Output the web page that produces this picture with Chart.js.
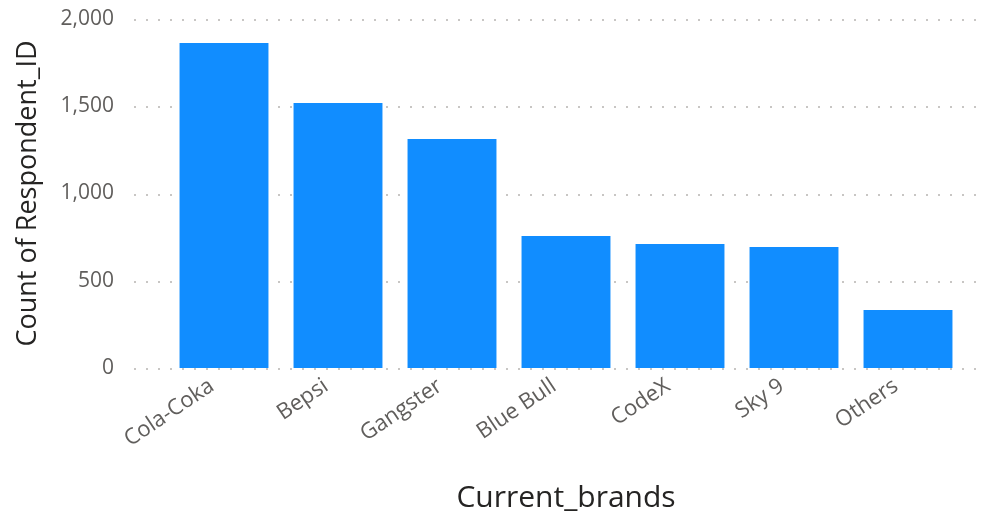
<!DOCTYPE html>
<html>
<head>
<meta charset="utf-8">
<script src="https://cdn.jsdelivr.net/npm/chart.js@4.4.1/dist/chart.umd.min.js"></script>
<style>
  html, body { margin: 0; padding: 0; background: #fff; }
  #wrap { width: 992px; height: 517px; }
</style>
</head>
<body>
<div id="wrap"><canvas id="brandChart" width="992" height="517"></canvas></div>
<script>
const brands = ["Cola-Coka", "Bepsi", "Gangster", "Blue Bull", "CodeX", "Sky 9", "Others"]
const respondentCounts = [1862, 1519, 1312, 756, 711, 693, 332]
const yTicks = [0, 500, 1000, 1500, 2000]

const FONT = "'Open Sans', 'Noto Sans', sans-serif"
const BAR_BLUE = "#118DFF"
const LABEL_GREY = "#605E5C"
const TITLE_DARK = "#252423"

// dotted gridlines that run a little past the bar area on both sides
const dottedGrid = {
  id: "dottedGrid",
  beforeDatasetsDraw(chart) {
    const { ctx, chartArea, scales } = chart
    ctx.save()
    ctx.strokeStyle = "#C8C6C4"
    ctx.lineWidth = 2
    ctx.setLineDash([2, 10])
    yTicks.forEach(v => {
      const y = Math.round(scales.y.getPixelForValue(v)) + 1
      ctx.beginPath()
      ctx.moveTo(chartArea.left - 33, y)
      ctx.lineTo(chartArea.right + 21, y)
      ctx.stroke()
    })
    ctx.restore()
  },
}

// fixed axis boxes so the plot area lands in the same place every time
const fixBox = size => scale => {
  scale.paddingTop = 0
  scale.paddingBottom = 0
  scale.paddingLeft = 0
  scale.paddingRight = 0
  if (scale.isHorizontal()) scale.height = size
  else scale.width = size
}

new Chart(document.getElementById("brandChart"), {
  type: "bar",
  data: {
    labels: brands,
    datasets: [
      {
        label: "Count of Respondent_ID",
        data: respondentCounts,
        backgroundColor: BAR_BLUE,
        borderWidth: 0,
        barPercentage: 0.78,
        categoryPercentage: 1,
      },
    ],
  },
  options: {
    responsive: false,
    animation: false,
    layout: { padding: { top: 19, right: 27, bottom: 1, left: 12 } },
    plugins: {
      legend: { display: false },
      tooltip: { enabled: false },
    },
    scales: {
      x: {
        grid: { display: false, drawTicks: false },
        border: { display: false },
        afterFit: fixBox(148),
        ticks: {
          color: LABEL_GREY,
          font: { family: FONT, size: 22 },
          minRotation: 34,
          maxRotation: 34,
          padding: 5,
          labelOffset: -12,
        },
        title: {
          display: true,
          text: "Current_brands",
          color: TITLE_DARK,
          font: { family: FONT, size: 30 },
          padding: { top: 20, bottom: 0 },
        },
      },
      y: {
        min: 0,
        max: 2000,
        grid: { display: false, drawTicks: false },
        border: { display: false },
        afterFit: fixBox(155),
        afterBuildTicks(scale) {
          scale.ticks = yTicks.map(v => ({ value: v }))
        },
        ticks: {
          color: LABEL_GREY,
          font: { family: FONT, size: 21 },
          padding: 53,
          callback: v => v.toLocaleString("en-US"),
        },
        title: {
          display: true,
          text: "Count of Respondent_ID",
          color: TITLE_DARK,
          font: { family: FONT, size: 27 },
          padding: { top: 0, bottom: 18 },
        },
      },
    },
  },
  plugins: [dottedGrid],
})
</script>
</body>
</html>
